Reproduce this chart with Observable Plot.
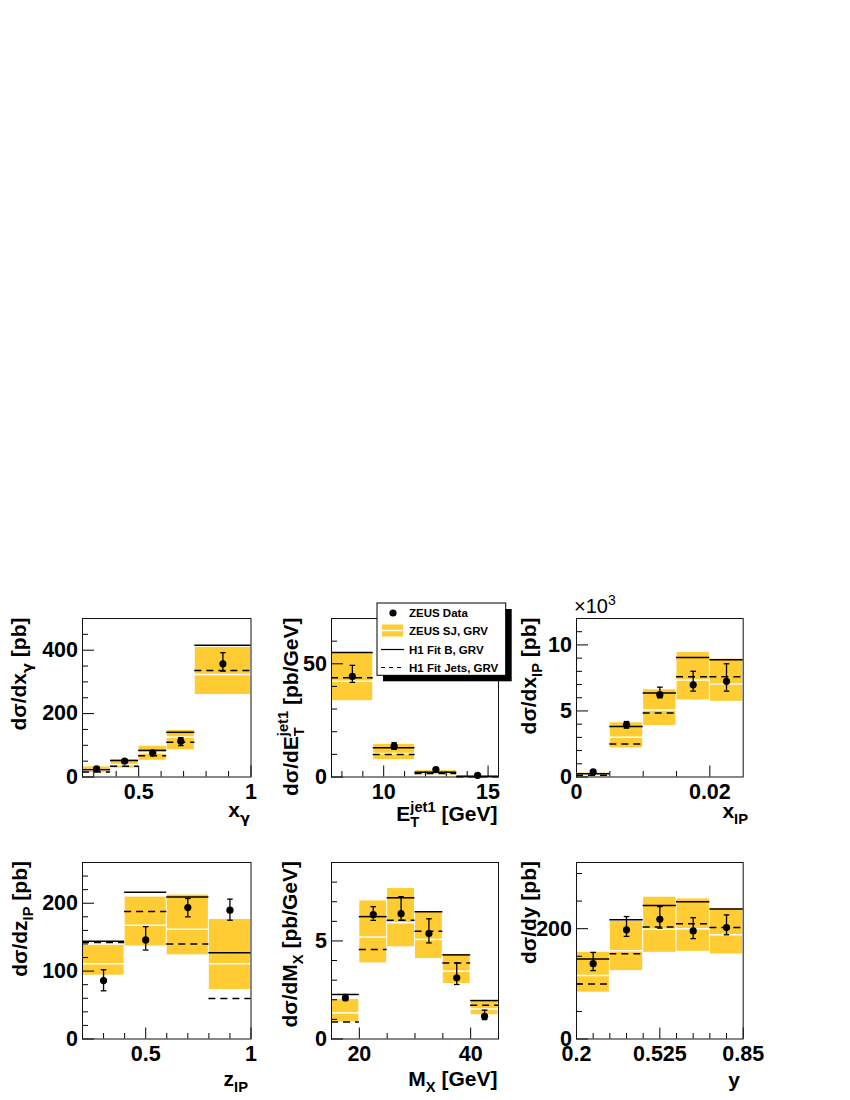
<!DOCTYPE html>
<html><head><meta charset="utf-8">
<script src="https://cdn.jsdelivr.net/npm/d3@7"></script>
<script src="https://cdn.jsdelivr.net/npm/@observablehq/plot@0.6"></script>
<style>
body{margin:0;background:#fff;}
#fig{position:relative;width:850px;height:1100px;overflow:hidden;font-family:"Liberation Sans",Arial,Helvetica,sans-serif;}
#fig svg{position:absolute;}
</style></head><body><div id="fig"></div>
<script>
// ---------- data ----------
// Panel 1: x_gamma
const xgEdges   = [0.25, 0.375, 0.5, 0.625, 0.75, 1];
const xgBandLo  = [13, 28, 53, 86, 260];
const xgBandHi  = [32, 55, 97, 147, 409];
const xgCentral = [21, 39, 76, 126, 323];
const xgFitB    = [23, 52, 84, 141, 416];
const xgFitJets = [16, 34, 67, 110, 336];
const xgData    = [26, 50, 76, 113, 357];
const xgErrLo   = [22, 46, 68, 99, 334];
const xgErrHi   = [30, 54, 83, 124, 392];
// Panel 2: E_T jet1
const etEdges   = [7.5, 9.5, 11.5, 13.5, 15.5];
const etBandLo  = [33.7, 7.7, 1.0, 0.0];
const etBandHi  = [54.5, 14.4, 2.8, 0.6];
const etCentral = [42.3, 10.4, 1.9, 0.3];
const etFitB    = [55.0, 12.9, 2.1, 0.3];
const etFitJets = [43.8, 9.9, 1.5, 0.15];
const etData    = [44.4, 13.6, 3.3, 0.7];
const etErrLo   = [41.8, 12.2, 2.8, 0.4];
const etErrHi   = [49.3, 15.1, 3.8, 1.0];
// Panel 3: x_IP (values in 10^3 pb)
const xpEdges   = [0, 0.005, 0.01, 0.015, 0.02, 0.025];
const xpBandLo  = [0.1, 2.2, 3.9, 5.83, 5.73];
const xpBandHi  = [0.3, 4.1, 6.6, 9.42, 8.92];
const xpCentral = [0.2, 3.0, 5.07, 7.34, 7.04];
const xpFitB    = [0.25, 3.82, 6.36, 9.05, 8.87];
const xpFitJets = [0.13, 2.5, 4.85, 7.59, 7.59];
const xpData    = [0.38, 3.95, 6.23, 6.98, 7.24];
const xpErrLo   = [0.3, 3.7, 6.0, 6.5, 6.5];
const xpErrHi   = [0.46, 4.2, 6.8, 8.0, 8.57];
// Panel 4: z_IP
const zpEdges   = [0.2, 0.4, 0.6, 0.8, 1.0];
const zpBandLo  = [94, 137, 124, 73];
const zpBandHi  = [138, 209, 212, 176];
const zpCentral = [111, 167.5, 161.6, 111];
const zpFitB    = [144, 216, 209, 127];
const zpFitJets = [142, 188, 140, 59.6];
const zpData    = [86, 146, 193.6, 189.7];
const zpErrLo   = [71, 131, 180, 175];
const zpErrHi   = [102, 165.5, 207, 206];
// Panel 5: M_X
const mxEdges   = [15, 20, 25, 30, 35, 40, 45];
const mxBandLo  = [0.87, 3.88, 4.7, 4.1, 2.83, 1.24];
const mxBandHi  = [2.01, 7.04, 7.67, 6.49, 4.29, 1.93];
const mxCentral = [1.33, 5.2, 5.93, 5.08, 3.46, 1.53];
const mxFitB    = [2.27, 6.24, 7.2, 6.49, 4.29, 1.96];
const mxFitJets = [0.87, 4.57, 6.05, 5.5, 3.88, 1.72];
const mxData    = [2.1, 6.34, 6.39, 5.38, 3.12, 1.16];
const mxErrLo   = [1.96, 6.05, 6.05, 4.9, 2.78, 0.99];
const mxErrHi   = [2.27, 6.75, 7.26, 6.13, 3.88, 1.47];
// Panel 6: y
const yEdges    = [0.2, 0.33, 0.46, 0.59, 0.72, 0.85];
const yBandLo   = [85, 124, 157, 159, 154];
const yBandHi   = [157, 213, 257, 254, 236];
const yCentral  = [115, 160, 199, 200, 189];
const yFitB     = [145, 216, 242, 249, 235.5];
const yFitJets  = [99.6, 154.6, 203, 209, 202];
const yData     = [136.5, 198, 217, 196, 202];
const yErrLo    = [124, 186, 201, 182, 189];
const yErrHi    = [157, 222, 240, 220, 225];

// tick values
const xgXMajor = [0.5, 1], xgXMinor = [0.3, 0.4, 0.6, 0.7, 0.8, 0.9];
const xgYMajor = [0, 200, 400], xgYMinor = [50, 100, 150, 250, 300, 350, 450];
const etXMajor = [10, 15], etXMinor = [8, 9, 11, 12, 13, 14];
const etYMajor = [0, 50], etYMinor = [10, 20, 30, 40, 60];
const xpXMajor = [0, 0.02], xpXMinor = [0.005, 0.01, 0.015];
const xpYMajor = [0, 5, 10], xpYMinor = [1, 2, 3, 4, 6, 7, 8, 9, 11];
const zpXMajor = [0.5, 1], zpXMinor = [0.3, 0.4, 0.6, 0.7, 0.8, 0.9];
const zpYMajor = [0, 100, 200], zpYMinor = [20, 40, 60, 80, 120, 140, 160, 180, 220, 240];
const mxXMajor = [20, 40], mxXMinor = [25, 30, 35];
const mxYMajor = [0, 5], mxYMinor = [1, 2, 3, 4, 6, 7, 8];
const yXMajor = [0.2, 0.525, 0.85], yXMinor = [0.265, 0.33, 0.395, 0.46, 0.59, 0.655, 0.72, 0.785];
const yYMajor = [0, 200], yYMinor = [50, 100, 150, 250, 300];

const legendLabels = ["ZEUS Data", "ZEUS SJ, GRV", "H1 Fit B, GRV", "H1 Fit Jets, GRV"];

// ---------- drawing ----------
const FONT = '"Liberation Sans", Arial, Helvetica, sans-serif';
const GREEK = '"DejaVu Sans", "Liberation Sans", sans-serif';
const YELLOW = "#ffcc33";
const cap = {draw(ctx, size) { const r = Math.sqrt(size / Math.PI); ctx.moveTo(-r, 0); ctx.lineTo(r, 0); }};
const fig = document.getElementById("fig");

const colL = [81.5, 330.7, 576], colW = [168.5, 167, 166.7];
const rowT = [618, 861.5], rowH = [158.5, 176.5];

function panel(p) {
  const rows = p.lo.map((_, i) => ({
    x1: p.edges[i], x2: p.edges[i + 1], xc: (p.edges[i] + p.edges[i + 1]) / 2,
    lo: p.lo[i], hi: p.hi[i], c: p.c[i], b: p.b[i], j: p.j[i], d: p.d[i], el: p.el[i], eh: p.eh[i]
  }));
  const fl = colL[p.col], fw = colW[p.col], ft = rowT[p.row], fh = rowH[p.row];
  const mL = 90, mT = 40, mR = 40, mB = 80;
  const fmt = d => String(d);
  const svg = Plot.plot({
    width: mL + fw + mR, height: mT + fh + mB,
    marginLeft: mL, marginTop: mT, marginRight: mR, marginBottom: mB,
    style: {background: "transparent", overflow: "visible", font: `bold 21.5px ${FONT}`, maxWidth: "none", color: "black"},
    x: {domain: p.xDomain, label: null},
    y: {domain: p.yDomain, label: null},
    marks: [
      Plot.rect(rows, {x1: "x1", x2: "x2", y1: "lo", y2: "hi", fill: YELLOW, insetLeft: 0.5, insetRight: 0.5}),
      Plot.ruleY(rows, {x1: "x1", x2: "x2", y: "c", stroke: "white", strokeWidth: 1.5}),
      Plot.ruleY(rows, {x1: "x1", x2: "x2", y: "b", stroke: "black", strokeWidth: 1.5}),
      Plot.ruleY(rows, {x1: "x1", x2: "x2", y: "j", stroke: "black", strokeWidth: 1.5, strokeDasharray: "7,5"}),
      Plot.ruleX(rows, {x: "xc", y1: "el", y2: "eh", stroke: "black", strokeWidth: 1.3}),
      Plot.dot(rows, {x: "xc", y: "el", symbol: cap, r: 2.8, fill: "none", stroke: "black", strokeWidth: 1.3}),
      Plot.dot(rows, {x: "xc", y: "eh", symbol: cap, r: 2.8, fill: "none", stroke: "black", strokeWidth: 1.3}),
      Plot.dot(rows, {x: "xc", y: "d", r: 3.6, fill: "black", stroke: "none"}),
      Plot.axisX(p.xMinor, {tickSize: -5.5, tickFormat: () => "", label: null}),
      Plot.axisX(p.xMajor, {tickSize: -11, tickPadding: 18, tickFormat: fmt, label: null}),
      Plot.axisY(p.yMinor, {tickSize: -6, tickFormat: () => "", label: null}),
      Plot.axisY(p.yMajor, {tickSize: -12, tickPadding: 16.5, tickFormat: fmt, label: null}),
      Plot.frame({stroke: "#111", strokeWidth: 1})
    ]
  });
  svg.style.left = (fl - mL) + "px";
  svg.style.top = (ft - mT) + "px";
  fig.appendChild(svg);
}

panel({col: 0, row: 0, edges: xgEdges, lo: xgBandLo, hi: xgBandHi, c: xgCentral, b: xgFitB, j: xgFitJets, d: xgData, el: xgErrLo, eh: xgErrHi,
  xDomain: [0.25, 1], yDomain: [0, 500], xMajor: xgXMajor, xMinor: xgXMinor, yMajor: xgYMajor, yMinor: xgYMinor});
panel({col: 1, row: 0, edges: etEdges, lo: etBandLo, hi: etBandHi, c: etCentral, b: etFitB, j: etFitJets, d: etData, el: etErrLo, eh: etErrHi,
  xDomain: [7.5, 15.5], yDomain: [0, 70], xMajor: etXMajor, xMinor: etXMinor, yMajor: etYMajor, yMinor: etYMinor});
panel({col: 2, row: 0, edges: xpEdges, lo: xpBandLo, hi: xpBandHi, c: xpCentral, b: xpFitB, j: xpFitJets, d: xpData, el: xpErrLo, eh: xpErrHi,
  xDomain: [0, 0.025], yDomain: [0, 12], xMajor: xpXMajor, xMinor: xpXMinor, yMajor: xpYMajor, yMinor: xpYMinor});
panel({col: 0, row: 1, edges: zpEdges, lo: zpBandLo, hi: zpBandHi, c: zpCentral, b: zpFitB, j: zpFitJets, d: zpData, el: zpErrLo, eh: zpErrHi,
  xDomain: [0.2, 1], yDomain: [0, 260], xMajor: zpXMajor, xMinor: zpXMinor, yMajor: zpYMajor, yMinor: zpYMinor});
panel({col: 1, row: 1, edges: mxEdges, lo: mxBandLo, hi: mxBandHi, c: mxCentral, b: mxFitB, j: mxFitJets, d: mxData, el: mxErrLo, eh: mxErrHi,
  xDomain: [15, 45], yDomain: [0, 9], xMajor: mxXMajor, xMinor: mxXMinor, yMajor: mxYMajor, yMinor: mxYMinor});
panel({col: 2, row: 1, edges: yEdges, lo: yBandLo, hi: yBandHi, c: yCentral, b: yFitB, j: yFitJets, d: yData, el: yErrLo, eh: yErrHi,
  xDomain: [0.2, 0.85], yDomain: [0, 320], xMajor: yXMajor, xMinor: yXMinor, yMajor: yYMajor, yMinor: yYMinor});

// ---------- overlay: titles & legend ----------
const ov = d3.select(fig).append("svg").attr("width", 850).attr("height", 1100)
  .style("left", "0px").style("top", "0px").style("overflow", "visible")
  .attr("font-family", FONT);

function rich(textSel, parts, size) {
  let cur = 0, lastLen = 0;
  for (const [t, kind] of parts) {
    const small = kind !== "";
    const target = kind === "sub" ? 0.3 * size : (kind === "sup" || kind === "supstack") ? -0.45 * size : 0;
    const ts = textSel.append("tspan").attr("dy", target - cur).attr("font-size", small ? size * 0.7 : size).text(t);
    if (/[γσ]/.test(t) && t.length === 1) ts.attr("font-family", GREEK);
    if (kind === "supstack") ts.attr("dx", -lastLen);
    cur = target;
    lastLen = ts.node().getComputedTextLength();
  }
}
function ytitle(x, y, parts) {
  const t = ov.append("text").attr("transform", `translate(${x},${y}) rotate(-90)`)
    .attr("text-anchor", "end").attr("font-weight", "bold").attr("font-size", 21);
  rich(t, parts, 21);
}
function xtitle(x, y, parts) {
  const t = ov.append("text").attr("x", x).attr("y", y)
    .attr("text-anchor", "end").attr("font-weight", "bold").attr("font-size", 21);
  rich(t, parts, 21);
}
ytitle(26, 617.5, [["dσ/dx", ""], ["γ", "sub"], [" [pb]", ""]]);
ytitle(297.5, 617.5, [["dσ/dE", ""], ["T", "sub"], ["jet1", "supstack"], [" [pb/GeV]", ""]]);
ytitle(535.5, 617.5, [["dσ/dx", ""], ["IP", "sub"], [" [pb]", ""]]);
ytitle(26.5, 861, [["dσ/dz", ""], ["IP", "sub"], [" [pb]", ""]]);
ytitle(297, 861, [["dσ/dM", ""], ["X", "sub"], [" [pb/GeV]", ""]]);
ytitle(535.5, 861, [["dσ/dy [pb]", ""]]);

xtitle(250, 816.5, [["x", ""], ["γ", "sub"]]);
xtitle(497.5, 821, [["E", ""], ["T", "sub"], ["jet1", "supstack"], [" [GeV]", ""]]);
xtitle(748, 818, [["x", ""], ["IP", "sub"]]);
xtitle(248, 1086, [["z", ""], ["IP", "sub"]]);
xtitle(497.5, 1086, [["M", ""], ["X", "sub"], [" [GeV]", ""]]);
xtitle(740, 1087, [["y", ""]]);

// x10^3 multiplier
const mult = ov.append("text").attr("x", 574).attr("y", 613).attr("font-size", 20).attr("font-weight", "normal");
mult.append("tspan").text("×10");
mult.append("tspan").attr("dy", -8).attr("font-size", 14).text("3");

// legend
const lg = ov.append("g");
const LX = 377, LY = 603, LW = 128.7, LH = 72.3;
lg.append("rect").attr("x", LX + 6).attr("y", LY + 6).attr("width", LW).attr("height", LH).attr("fill", "black");
lg.append("rect").attr("x", LX).attr("y", LY).attr("width", LW).attr("height", LH).attr("fill", "white").attr("stroke", "black").attr("stroke-width", 1);
const rowY = [613, 630.5, 649.5, 667.5];
lg.append("circle").attr("cx", 393).attr("cy", rowY[0]).attr("r", 3.6).attr("fill", "black");
lg.append("rect").attr("x", 382).attr("y", rowY[1] - 6).attr("width", 21).attr("height", 12).attr("fill", YELLOW);
lg.append("line").attr("x1", 382).attr("x2", 403).attr("y1", rowY[1]).attr("y2", rowY[1]).attr("stroke", "white").attr("stroke-width", 1.5);
lg.append("line").attr("x1", 381).attr("x2", 404).attr("y1", rowY[2]).attr("y2", rowY[2]).attr("stroke", "black").attr("stroke-width", 1.2);
lg.append("line").attr("x1", 381).attr("x2", 404).attr("y1", rowY[3]).attr("y2", rowY[3]).attr("stroke", "black").attr("stroke-width", 1.2).attr("stroke-dasharray", "4,4");
legendLabels.forEach((s, i) => {
  lg.append("text").attr("x", 409).attr("y", rowY[i]).attr("dy", "0.36em")
    .attr("font-size", 11.5).attr("font-weight", "bold").text(s);
});
</script></body></html>
